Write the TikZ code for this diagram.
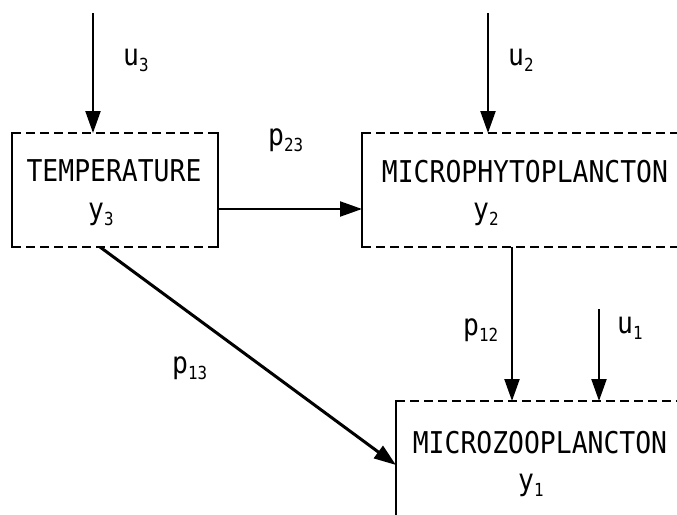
\documentclass[tikz,border=0pt]{standalone}
\usepackage{fontspec}
\newfontfamily\plotfont[FakeStretch=0.88]{DejaVu Sans Mono}
\usetikzlibrary{arrows.meta}
\newcommand{\sbs}[1]{\raisebox{-6pt}{\fontsize{18}{18}\selectfont #1}}
\tikzset{
  boxarea/.style={rectangle,inner sep=0pt,outer sep=0pt,draw=none},
  solidedge/.style={line width=2.5pt,line cap=rect},
  dashedge/.style={line width=2.2pt,dash pattern=on 9pt off 5pt},
  arr/.style={line width=2.2pt,-{Triangle[length=22pt,width=15pt]}},
  txt/.style={font=\plotfont\fontsize{30}{30}\selectfont,inner sep=0pt,anchor=base,text height=22pt,text depth=0pt},
  lbl/.style={font=\plotfont\fontsize{30}{30}\selectfont,inner sep=0pt,anchor=base west,text height=16pt,text depth=8pt}
}
\begin{document}
\begin{tikzpicture}[x=1pt,y=-1pt]
\useasboundingbox (0,0) rectangle (677,514);
\clip (0,0) rectangle (677,514);
\fill[white] (0,0) rectangle (677,514);
% boxes
\node[boxarea,minimum width=206pt,minimum height=114pt] (temp) at (115,190) {};
\node[boxarea,minimum width=338pt,minimum height=114pt] (phyto) at (531,190) {};
\node[boxarea,minimum width=304pt,minimum height=138pt] (zoo) at (548,470) {};
% temperature box edges
\draw[dashedge] (temp.north west) -- (temp.north east);
\draw[dashedge] (temp.south west) -- (temp.south east);
\draw[solidedge] (temp.north west) -- (temp.south west);
\draw[solidedge] (temp.north east) -- (temp.south east);
% phyto box edges
\draw[dashedge] (phyto.north west) -- (phyto.north east);
\draw[dashedge] (phyto.south west) -- (phyto.south east);
\draw[solidedge] (phyto.north west) -- (phyto.south west);
% zoo box edges
\draw[dashedge] (zoo.north west) -- (zoo.north east);
\draw[solidedge] (zoo.north west) -- (zoo.south west);
% texts in boxes
\node[txt] (ttemp) at (114,181) {TEMPERATURE};
\node[lbl] (ty3) at (88,219) {y\sbs{3}};
\node[txt] (tphyto) at (525,182) {MICROPHYTOPLANCTON};
\node[lbl] (ty2) at (473,219) {y\sbs{2}};
\node[txt] (tzoo) at (540,453) {MICROZOOPLANCTON};
\node[lbl] (ty1) at (518,490) {y\sbs{1}};
% free ends
\coordinate (u3s) at (93,13);
\coordinate (u2s) at (488,13);
\coordinate (u1s) at (599,309);
\coordinate (p23y) at (0,209);
\coordinate (p13s) at (100,0);
\coordinate (p13e) at (0,465);
\coordinate (p12x) at (512,0);
% connectors
\draw[arr] (u3s) -- (u3s |- temp.north);
\draw[arr] (u2s) -- (u2s |- phyto.north);
\draw[arr] (u1s) -- (u1s |- zoo.north);
\draw[arr] (temp.east |- p23y) -- (phyto.west |- p23y);
\draw[arr,line width=3pt] (temp.south -| p13s) -- (zoo.west |- p13e);
\draw[arr] (phyto.south -| p12x) -- (zoo.north -| p12x);
% labels
\node[lbl] (lu3) at (123,65) {u\sbs{3}};
\node[lbl] (lu2) at (508,65) {u\sbs{2}};
\node[lbl] (lp23) at (268,145) {p\sbs{23}};
\node[lbl] (lp13) at (172,373) {p\sbs{13}};
\node[lbl] (lp12) at (463,335) {p\sbs{12}};
\node[lbl] (lu1) at (617,333) {u\sbs{1}};
\end{tikzpicture}
\end{document}
